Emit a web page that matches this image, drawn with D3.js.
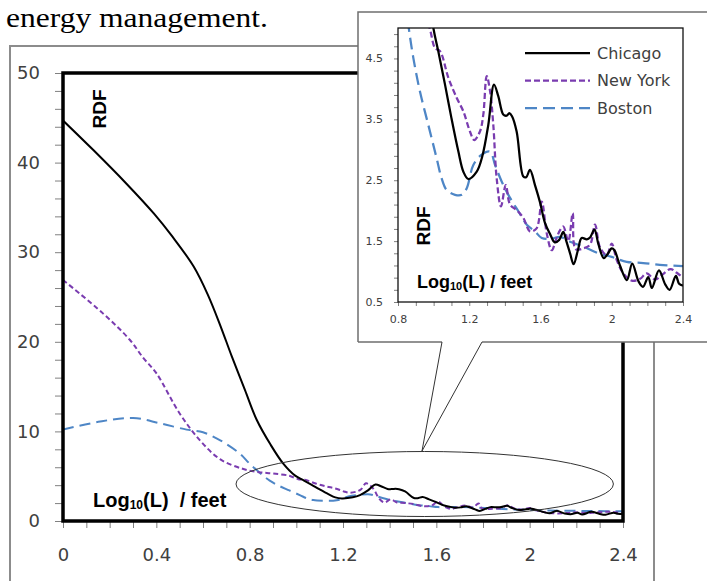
<!DOCTYPE html>
<html><head><meta charset="utf-8">
<script src="https://cdn.jsdelivr.net/npm/d3@7"></script>
<style>body{margin:0;background:#fff}svg{display:block}</style>
</head><body><svg id="c" width="707" height="581"></svg>
<script>
// ---- data (x = Log10(L) / feet, y = RDF) ----
const seriesNames = ["Chicago", "New York", "Boston"];
const chicago = [[0,44.7],[0.13,41.4],[0.27,37.7],[0.39,34.3],[0.47,31.7],[0.56,28.4],[0.62,25.3],[0.673,21.9],[0.723,18.4],[0.78,14.6],[0.83,11.3],[0.89,8.5],[0.944,6.4],[0.995,5.06],[1.026,4.62],[1.064,4.07],[1.10,3.52],[1.139,2.97],[1.167,2.64],[1.195,2.52],[1.242,2.64],[1.273,2.89],[1.307,3.41],[1.339,4.07],[1.363,3.88],[1.391,3.58],[1.41,3.56],[1.425,3.6],[1.44,3.55],[1.466,3.30],[1.504,2.56],[1.52,2.55],[1.541,2.67],[1.569,2.42],[1.597,2.14],[1.625,1.80],[1.653,1.62],[1.68,1.48],[1.705,1.52],[1.728,1.65],[1.745,1.5],[1.766,1.30],[1.786,1.12],[1.81,1.35],[1.831,1.55],[1.86,1.53],[1.878,1.56],[1.903,1.69],[1.925,1.45],[1.955,1.22],[1.975,1.28],[2.0,1.38],[2.015,1.35],[2.046,1.10],[2.085,0.86],[2.115,1.13],[2.15,0.84],[2.175,0.75],[2.205,0.91],[2.225,0.73],[2.265,1.02],[2.30,0.79],[2.325,0.70],[2.36,0.93],[2.378,0.80],[2.40,0.77]];
const newYork = [[0,26.9],[0.17,23.2],[0.287,20.2],[0.344,18.2],[0.40,16.5],[0.50,12.0],[0.587,9.0],[0.673,6.9],[0.773,5.8],[0.84,5.45],[0.90,5.3],[0.97,5.05],[1.008,4.67],[1.036,4.62],[1.083,4.18],[1.13,3.85],[1.167,3.63],[1.204,3.30],[1.228,3.16],[1.26,3.30],[1.279,3.58],[1.298,4.21],[1.317,3.96],[1.335,3.41],[1.354,2.53],[1.378,2.07],[1.405,2.42],[1.429,2.10],[1.466,2.01],[1.504,1.88],[1.541,1.66],[1.578,1.71],[1.607,2.15],[1.635,1.63],[1.663,1.35],[1.69,1.55],[1.71,1.68],[1.728,1.74],[1.756,1.50],[1.781,1.96],[1.797,1.37],[1.84,1.38],[1.878,1.44],[1.906,1.77],[1.934,1.40],[1.972,1.27],[2.0,1.46],[2.028,1.19],[2.065,0.97],[2.112,0.85],[2.159,0.88],[2.196,0.97],[2.243,0.87],[2.28,0.94],[2.33,1.04],[2.365,0.98],[2.40,0.90]];
const boston = [[0,10.2],[0.159,11.1],[0.30,11.5],[0.416,10.9],[0.53,10.2],[0.60,9.9],[0.66,9.2],[0.70,8.6],[0.759,7.5],[0.80,6.4],[0.858,5.05],[0.886,4.51],[0.923,3.96],[0.97,3.41],[1.017,2.86],[1.045,2.53],[1.073,2.34],[1.12,2.26],[1.158,2.26],[1.186,2.37],[1.223,2.75],[1.27,2.92],[1.317,2.97],[1.345,2.75],[1.382,2.48],[1.429,2.21],[1.476,1.99],[1.523,1.77],[1.569,1.66],[1.607,1.55],[1.66,1.54],[1.71,1.57],[1.766,1.49],[1.84,1.41],[1.925,1.30],[2.0,1.24],[2.084,1.16],[2.177,1.14],[2.27,1.11],[2.40,1.09]];
const mainXTicks = [0, 0.4, 0.8, 1.2, 1.6, 2, 2.4];
const mainYTicks = [0, 10, 20, 30, 40, 50];
const insetXTicks = [0.8, 1.2, 1.6, 2, 2.4];
const insetYTicks = [0.5, 1.5, 2.5, 3.5, 4.5];

const colors = ["#000000", "#7a3cb0", "#4e86c6"];
const mainDash = [null, "5,3", "11,6"];
const insetDash = [null, "6,3", "12,6"];
const allSeries = [chicago, newYork, boston];

const svg = d3.select("#c");
const grey = "#404040";
const isIn = (arr, d) => arr.some(t => Math.abs(t - d) < 1e-9);
const fmt = d => String(+d.toFixed(1));

// heading text fragment
svg.append("text").attr("x", 6).attr("y", 27)
  .attr("font-family", "Liberation Serif").attr("font-size", 28)
  .attr("textLength", 262).attr("lengthAdjust", "spacingAndGlyphs")
  .attr("fill", "#000").text("energy management.");

// main chart outer frame
svg.append("rect").attr("x", 10).attr("y", 46).attr("width", 644).attr("height", 600)
  .attr("fill", "#fff").attr("stroke", "#8c8c8c").attr("stroke-width", 2);

// ---- main chart ----
const x = d3.scaleLinear().domain([0, 2.4]).range([63, 623]);
const y = d3.scaleLinear().domain([0, 50]).range([521, 73]);

const yAx = svg.append("g").attr("transform", "translate(63,0)")
  .call(d3.axisLeft(y).tickValues(d3.range(26).map(i => i * 2))
    .tickSize(8).tickPadding(15)
    .tickFormat(d => isIn(mainYTicks, d) ? fmt(d) : ""));
const xAx = svg.append("g").attr("transform", "translate(0,521)")
  .call(d3.axisBottom(x).tickValues(d3.range(25).map(i => i / 10))
    .tickSize(7).tickPadding(20)
    .tickFormat(d => isIn(mainXTicks, d) ? fmt(d) : ""));
[yAx, xAx].forEach(g => {
  g.select(".domain").remove();
  g.selectAll("line").attr("stroke", "#808080").attr("stroke-width", 1);
  g.selectAll("text").attr("font-family", "DejaVu Sans").attr("font-size", 18).attr("fill", grey);
});

svg.append("clipPath").attr("id", "mainClip").append("rect")
  .attr("x", 63).attr("y", 73).attr("width", 560).attr("height", 448);

const lineMain = d3.line().x(d => x(d[0])).y(d => y(d[1])).curve(d3.curveCatmullRom.alpha(0.5));
const gm = svg.append("g").attr("clip-path", "url(#mainClip)");
[2, 1, 0].forEach(i => {
  gm.append("path").attr("d", lineMain(allSeries[i])).attr("fill", "none")
    .attr("stroke", colors[i]).attr("stroke-width", 2)
    .attr("stroke-dasharray", mainDash[i]);
});

svg.append("rect").attr("x", 63).attr("y", 73).attr("width", 560).attr("height", 448)
  .attr("fill", "none").attr("stroke", "#000").attr("stroke-width", 3.5);

svg.append("text").attr("transform", "translate(99.5,109) rotate(-90)")
  .attr("text-anchor", "middle").attr("dominant-baseline", "central")
  .attr("font-family", "Liberation Sans").attr("font-weight", "bold").attr("font-size", 19)
  .attr("fill", "#000").text("RDF");

const lbl = svg.append("text").attr("x", 93).attr("y", 506.5)
  .attr("font-family", "Liberation Sans").attr("font-weight", "bold").attr("font-size", 20)
  .attr("fill", "#000").style("white-space", "pre");
lbl.append("tspan").text("Log");
lbl.append("tspan").attr("font-size", 12).attr("dy", 2).text("10");
lbl.append("tspan").attr("dy", -2).text("(L)  / feet");

// highlight ellipse
svg.append("ellipse").attr("cx", 424.7).attr("cy", 484).attr("rx", 188.7).attr("ry", 32.5)
  .attr("fill", "none").attr("stroke", "#333").attr("stroke-width", 1);

// ---- inset ----
svg.append("rect").attr("x", 358).attr("y", 12).attr("width", 360).attr("height", 330)
  .attr("fill", "#fff").attr("stroke", "none");
const frameStroke = "#6f6f6f";
svg.append("path").attr("d", "M358,342 V12 H707").attr("fill", "none").attr("stroke", frameStroke).attr("stroke-width", 1.5);
svg.append("path").attr("d", "M358,342 H442 M482,342 H707").attr("fill", "none").attr("stroke", frameStroke).attr("stroke-width", 1.5);
svg.append("path").attr("d", "M442,342 L422,451 L482,342").attr("fill", "none").attr("stroke", "#333").attr("stroke-width", 1);

const xi = d3.scaleLinear().domain([0.8, 2.4]).range([398, 683]);
const yi = d3.scaleLinear().domain([0.5, 5]).range([302, 28]);

const yiAx = svg.append("g").attr("transform", "translate(398,0)")
  .call(d3.axisLeft(yi).tickValues(d3.range(23).map(i => 0.5 + i * 0.2))
    .tickSize(4).tickPadding(11)
    .tickFormat(d => isIn(insetYTicks, d) ? fmt(d) : ""));
const xiAx = svg.append("g").attr("transform", "translate(0,302)")
  .call(d3.axisBottom(xi).tickValues(d3.range(17).map(i => 0.8 + i / 10))
    .tickSize(4).tickPadding(9)
    .tickFormat(d => isIn(insetXTicks, d) ? fmt(d) : ""));
[yiAx, xiAx].forEach(g => {
  g.select(".domain").remove();
  g.selectAll("line").attr("stroke", "#808080").attr("stroke-width", 1);
  g.selectAll("text").attr("font-family", "DejaVu Sans").attr("font-size", 11).attr("fill", grey);
});

svg.append("clipPath").attr("id", "insetClip").append("rect")
  .attr("x", 398).attr("y", 28).attr("width", 285).attr("height", 274);
const lineInset = d3.line().x(d => xi(d[0])).y(d => yi(d[1])).curve(d3.curveCatmullRom.alpha(0.5));
const gi = svg.append("g").attr("clip-path", "url(#insetClip)");
[2, 1, 0].forEach(i => {
  gi.append("path").attr("d", lineInset(allSeries[i])).attr("fill", "none")
    .attr("stroke", colors[i]).attr("stroke-width", 2.25)
    .attr("stroke-dasharray", insetDash[i]);
});
svg.append("rect").attr("x", 398).attr("y", 28).attr("width", 285).attr("height", 274)
  .attr("fill", "none").attr("stroke", "#111").attr("stroke-width", 1.3);

// legend
const leg = svg.append("g");
seriesNames.forEach((n, i) => {
  const ly = 53 + i * 27.5;
  leg.append("line").attr("x1", 525).attr("x2", 590).attr("y1", ly).attr("y2", ly)
    .attr("stroke", colors[i]).attr("stroke-width", 2.25).attr("stroke-dasharray", insetDash[i]);
  leg.append("text").attr("x", 597).attr("y", ly).attr("dominant-baseline", "central")
    .attr("font-family", "DejaVu Sans").attr("font-size", 16).attr("fill", grey).text(n);
});

svg.append("text").attr("transform", "translate(423,226) rotate(-90)")
  .attr("text-anchor", "middle").attr("dominant-baseline", "central")
  .attr("font-family", "Liberation Sans").attr("font-weight", "bold").attr("font-size", 19)
  .attr("fill", "#000").text("RDF");
const lbl2 = svg.append("text").attr("x", 417).attr("y", 288)
  .attr("font-family", "Liberation Sans").attr("font-weight", "bold").attr("font-size", 18)
  .attr("fill", "#000").style("white-space", "pre");
lbl2.append("tspan").text("Log");
lbl2.append("tspan").attr("font-size", 11).attr("dy", 2).text("10");
lbl2.append("tspan").attr("dy", -2).text("(L) / feet");
</script></body></html>
